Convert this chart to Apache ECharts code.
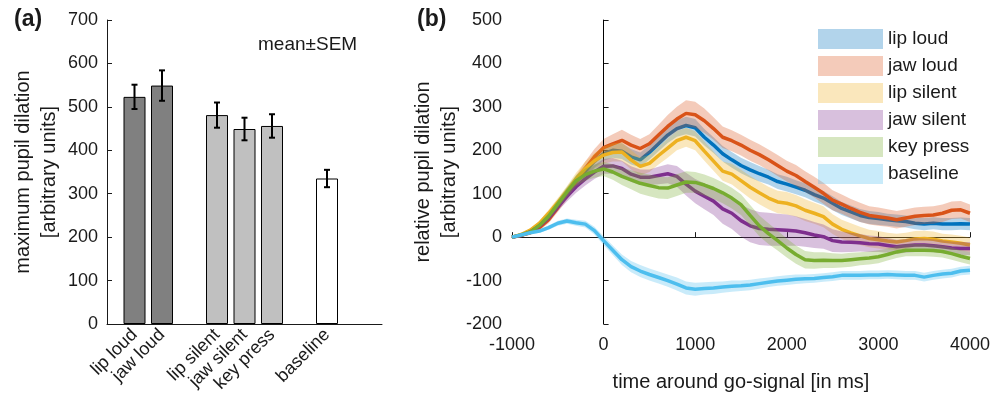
<!DOCTYPE html>
<html>
<head>
<meta charset="utf-8">
<script src="https://cdn.jsdelivr.net/npm/echarts@6/dist/echarts.min.js"></script>
<style>
html, body { margin: 0; padding: 0; background: #fff; }
#chart-panel { width: 993px; height: 404px; }
</style>
</head>
<body>
<div id="chart-panel"></div>
<script>
// (a) maximum pupil dilation
var barNames = ['lip loud', 'jaw loud', 'lip silent', 'jaw silent', 'key press', 'baseline']
var barPos = [1, 2, 4, 5, 6, 8]
var barMeans = [523, 549, 481, 449, 456, 335]
var barSems = [28, 35, 29, 26, 27, 20]
var barColors = ['#808080', '#808080', '#c0c0c0', '#c0c0c0', '#c0c0c0', '#ffffff']

// (b) relative pupil dilation, one value per 100 ms
var times = [-1000, -900, -800, -700, -600, -500, -400, -300, -200, -100,
    0, 100, 200, 300, 400, 500, 600, 700, 800, 900,
    1000, 1100, 1200, 1300, 1400, 1500, 1600, 1700, 1800, 1900,
    2000, 2100, 2200, 2300, 2400, 2500, 2600, 2700, 2800, 2900,
    3000, 3100, 3200, 3300, 3400, 3500, 3600, 3700, 3800, 3900, 4000]
var lineNames = ['lip loud', 'jaw loud', 'lip silent', 'jaw silent', 'key press', 'baseline']

var lipLoud = [0, 5, 14, 28, 50, 76, 102, 128, 152, 175,
    192, 200, 198, 185, 178, 195, 215, 235, 250, 257,
    252, 230, 212, 192, 178, 165, 155, 146, 138, 128,
    122, 115, 108, 98, 90, 78, 66, 58, 50, 45,
    43, 40, 38, 36, 32, 30, 32, 30, 30, 31, 30]
var jawLoud = [0, 4, 10, 22, 40, 68, 98, 128, 158, 185,
    206, 215, 223, 212, 204, 215, 235, 255, 272, 285,
    282, 268, 250, 230, 222, 212, 200, 190, 178, 165,
    152, 142, 128, 115, 101, 85, 76, 66, 57, 50,
    47, 44, 40, 44, 48, 50, 51, 55, 62, 63, 55]
var lipSilent = [0, 6, 16, 32, 55, 80, 106, 134, 158, 176,
    189, 195, 196, 178, 163, 170, 188, 205, 222, 230,
    222, 198, 175, 152, 145, 130, 115, 102, 90, 81,
    78, 72, 62, 55, 47, 30, 18, 10, 3, -3,
    -6, -9, -11, -8, -4, -3, -5, -9, -11, -14, -18]
var jawSilent = [0, 4, 12, 26, 45, 70, 94, 116, 134, 150,
    163, 164, 158, 145, 138, 138, 142, 146, 140, 122,
    106, 94, 83, 65, 55, 38, 26, 20, 18, 17,
    16, 14, 10, 5, 1, -8, -11, -12, -13, -15,
    -16, -19, -22, -20, -18, -18, -20, -22, -25, -26, -26]
var keyPress = [0, 5, 12, 27, 48, 76, 104, 130, 144, 152,
    157, 150, 140, 132, 124, 119, 114, 113, 120, 127,
    126, 120, 112, 102, 90, 75, 50, 26, 8, -8,
    -25, -40, -52, -54, -53, -54, -54, -52, -50, -48,
    -45, -40, -34, -30, -30, -30, -31, -33, -38, -44, -49]
var baseline = [0, 5, 10, 14, 22, 32, 37, 33, 30, 15,
    -8, -30, -52, -68, -78, -86, -93, -100, -108, -117,
    -120, -118, -117, -115, -113, -112, -110, -107, -104, -101,
    -99, -97, -96, -95, -93, -91, -88, -88, -88, -87,
    -87, -86, -87, -88, -88, -92, -88, -85, -83, -78, -76]

var semLipLoud = [0, 2, 4, 6, 8, 10, 12, 13, 14, 15,
    16, 17, 18, 18, 17, 16, 17, 18, 19, 20,
    20, 19, 18, 18, 18, 18, 18, 18, 17, 17,
    17, 16, 16, 16, 16, 16, 15, 15, 15, 15,
    15, 14, 14, 14, 14, 14, 14, 14, 14, 14, 14]
var semJawLoud = [0, 2, 4, 6, 8, 10, 12, 14, 16, 18,
    20, 22, 24, 24, 22, 22, 24, 26, 28, 30,
    30, 28, 26, 25, 24, 24, 24, 24, 24, 24,
    24, 24, 24, 24, 24, 23, 22, 22, 22, 21,
    21, 20, 20, 20, 20, 20, 20, 20, 20, 20, 20]
var semLipSilent = [0, 2, 4, 6, 8, 10, 12, 14, 16, 18,
    20, 21, 22, 22, 21, 20, 21, 22, 22, 22,
    22, 22, 22, 22, 24, 25, 26, 26, 26, 26,
    26, 25, 25, 24, 24, 23, 22, 22, 21, 20,
    20, 19, 19, 18, 18, 18, 18, 17, 17, 17, 17]
var semJawSilent = [0, 2, 4, 6, 8, 10, 12, 14, 15, 16,
    17, 18, 18, 18, 18, 18, 20, 22, 24, 26,
    28, 30, 32, 34, 36, 37, 38, 38, 38, 37,
    36, 34, 32, 30, 28, 26, 24, 22, 20, 19,
    18, 17, 16, 16, 16, 15, 15, 15, 15, 15, 15]
var semKeyPress = [0, 2, 4, 6, 8, 10, 12, 13, 14, 15,
    16, 18, 20, 22, 24, 25, 25, 25, 25, 25,
    24, 24, 24, 24, 24, 24, 24, 24, 24, 23,
    22, 21, 20, 19, 18, 17, 16, 16, 15, 15,
    15, 14, 14, 14, 14, 14, 14, 14, 14, 14, 14]
var semBaseline = [0, 2, 3, 4, 5, 6, 6, 7, 8, 9,
    10, 11, 12, 13, 14, 14, 14, 14, 15, 15,
    15, 14, 14, 13, 13, 12, 12, 12, 11, 11,
    11, 11, 10, 10, 10, 10, 10, 10, 10, 10,
    10, 10, 10, 10, 10, 10, 10, 10, 10, 10, 10]

var lineMeans = [lipLoud, jawLoud, lipSilent, jawSilent, keyPress, baseline]
var lineSems = [semLipLoud, semJawLoud, semLipSilent, semJawSilent, semKeyPress, semBaseline]
var lineColors = ['#0072BD', '#D95319', '#EDB120', '#7E2F8E', '#77AC30', '#4DBEEE']
var bandColors = ['rgba(0,114,189,0.3)', 'rgba(217,83,25,0.3)', 'rgba(237,177,32,0.3)',
    'rgba(126,47,142,0.3)', 'rgba(119,172,48,0.3)', 'rgba(77,190,238,0.3)']

var fontFamily = '"Liberation Sans", Arial, Helvetica, sans-serif'
var ink = '#1a1a1a'

var axisCommon = {
    axisLine: { lineStyle: { color: ink, width: 1 } },
    axisTick: { inside: true, length: 5, lineStyle: { color: ink } },
    axisLabel: { color: ink, fontSize: 18, fontFamily: fontFamily, formatter: function (v) { return String(v) } },
    splitLine: { show: false },
    nameTextStyle: { color: ink, fontSize: 20, fontFamily: fontFamily, lineHeight: 26 }
}

// shaded SEM band, drawn before its own line (later bands cover earlier lines)
function bandSeries(idx) {
    return {
        type: 'custom',
        name: lineNames[idx],
        xAxisIndex: 1,
        yAxisIndex: 1,
        silent: true,
        z: 2 + idx * 2,
        itemStyle: { color: bandColors[idx] },
        data: [[times[0], lineMeans[idx][0]]],
        renderItem: function (params, api) {
            var m = lineMeans[idx]
            var s = lineSems[idx]
            var pts = []
            for (var i = 0; i < times.length; i++) {
                pts.push(api.coord([times[i], m[i] + s[i]]))
            }
            for (var j = times.length - 1; j >= 0; j--) {
                pts.push(api.coord([times[j], m[j] - s[j]]))
            }
            return {
                type: 'polygon',
                shape: { points: pts },
                style: { fill: bandColors[idx], stroke: null }
            }
        }
    }
}

function lineSeries(idx) {
    return {
        type: 'line',
        xAxisIndex: 1,
        yAxisIndex: 1,
        silent: true,
        z: 3 + idx * 2,
        showSymbol: false,
        smooth: false,
        data: times.map(function (t, i) { return [t, lineMeans[idx][i]] }),
        lineStyle: { color: lineColors[idx], width: 3.5 },
        itemStyle: { color: lineColors[idx] }
    }
}

var series = [{
    type: 'bar',
    xAxisIndex: 0,
    yAxisIndex: 0,
    barWidth: 22,
    silent: true,
    data: barPos.map(function (p, i) {
        return { value: [p, barMeans[i]], itemStyle: { color: barColors[i] } }
    }),
    itemStyle: { borderColor: '#000', borderWidth: 1 }
}, {
    type: 'custom',
    xAxisIndex: 0,
    yAxisIndex: 0,
    silent: true,
    z: 5,
    data: barPos.map(function (p, i) { return [p, barMeans[i] - barSems[i], barMeans[i] + barSems[i]] }),
    encode: { x: 0, y: [1, 2] },
    renderItem: function (params, api) {
        var top = api.coord([api.value(0), api.value(2)])
        var bot = api.coord([api.value(0), api.value(1)])
        var cap = 3
        var st = { stroke: '#000', lineWidth: 2 }
        return {
            type: 'group',
            children: [
                { type: 'line', shape: { x1: top[0], y1: top[1], x2: bot[0], y2: bot[1] }, style: st },
                { type: 'line', shape: { x1: top[0] - cap, y1: top[1], x2: top[0] + cap, y2: top[1] }, style: st },
                { type: 'line', shape: { x1: bot[0] - cap, y1: bot[1], x2: bot[0] + cap, y2: bot[1] }, style: st }
            ]
        }
    }
}]

for (var k = 0; k < lineNames.length; k++) {
    series.push(bandSeries(k))
    series.push(lineSeries(k))
}

// go-signal marker
series[series.length - 1].markLine = {
    silent: true,
    symbol: 'none',
    label: { show: false },
    lineStyle: { color: '#000', width: 1, type: 'solid' },
    data: [{ xAxis: 0 }]
}

chartOption = {
    backgroundColor: '#fff',
    animation: false,
    textStyle: { fontFamily: fontFamily },
    grid: [{
        left: 107, top: 20, width: 275, height: 304
    }, {
        left: 512, top: 20, width: 459, height: 304
    }],
    legend: {
        orient: 'vertical',
        left: 813,
        top: 24,
        z: 50,
        itemWidth: 65,
        itemHeight: 20,
        itemGap: 7,
        icon: 'rect',
        selectedMode: false,
        textStyle: { color: ink, fontSize: 19, fontFamily: fontFamily },
        data: lineNames.map(function (n, i) { return { name: n, itemStyle: { color: bandColors[i] } } })
    },
    xAxis: [Object.assign({}, axisCommon, {
        gridIndex: 0,
        type: 'value',
        min: 0,
        max: 10,
        interval: 1,
        axisTick: { show: false },
        axisLabel: Object.assign({}, axisCommon.axisLabel, {
            rotate: 45,
            margin: 8,
            showMinLabel: true,
            showMaxLabel: true,
            formatter: function (v) {
                var i = barPos.indexOf(v)
                return i < 0 ? '' : barNames[i]
            }
        })
    }), Object.assign({}, axisCommon, {
        gridIndex: 1,
        type: 'value',
        min: -1000,
        max: 4000,
        interval: 1000,
        name: 'time around go-signal [in ms]',
        nameLocation: 'middle',
        nameGap: 45,
        axisLabel: Object.assign({}, axisCommon.axisLabel, { margin: 12 })
    })],
    yAxis: [Object.assign({}, axisCommon, {
        gridIndex: 0,
        type: 'value',
        min: 0,
        max: 700,
        interval: 100,
        name: 'maximum pupil dilation\n[arbitrary units]',
        nameLocation: 'middle',
        nameGap: 45,
        axisLabel: Object.assign({}, axisCommon.axisLabel, { margin: 9 })
    }), Object.assign({}, axisCommon, {
        gridIndex: 1,
        type: 'value',
        min: -200,
        max: 500,
        interval: 100,
        name: 'relative pupil dilation\n[arbitrary units]',
        nameLocation: 'middle',
        nameGap: 46,
        axisLabel: Object.assign({}, axisCommon.axisLabel, { margin: 10 })
    })],
    graphic: [{
        type: 'text', left: 14, top: 8,
        style: { text: '(a)', fontSize: 23, fontWeight: 'bold', fill: ink, fontFamily: fontFamily }
    }, {
        type: 'text', left: 417, top: 8,
        style: { text: '(b)', fontSize: 23, fontWeight: 'bold', fill: ink, fontFamily: fontFamily }
    }, {
        type: 'text', left: 258, top: 35,
        style: { text: 'mean±SEM', fontSize: 19, fill: ink, fontFamily: fontFamily }
    }],
    series: series
}

var chartPanel = document.getElementById('chart-panel')
var myChart = echarts.init(chartPanel)
myChart.setOption(chartOption)
</script>
</body>
</html>
